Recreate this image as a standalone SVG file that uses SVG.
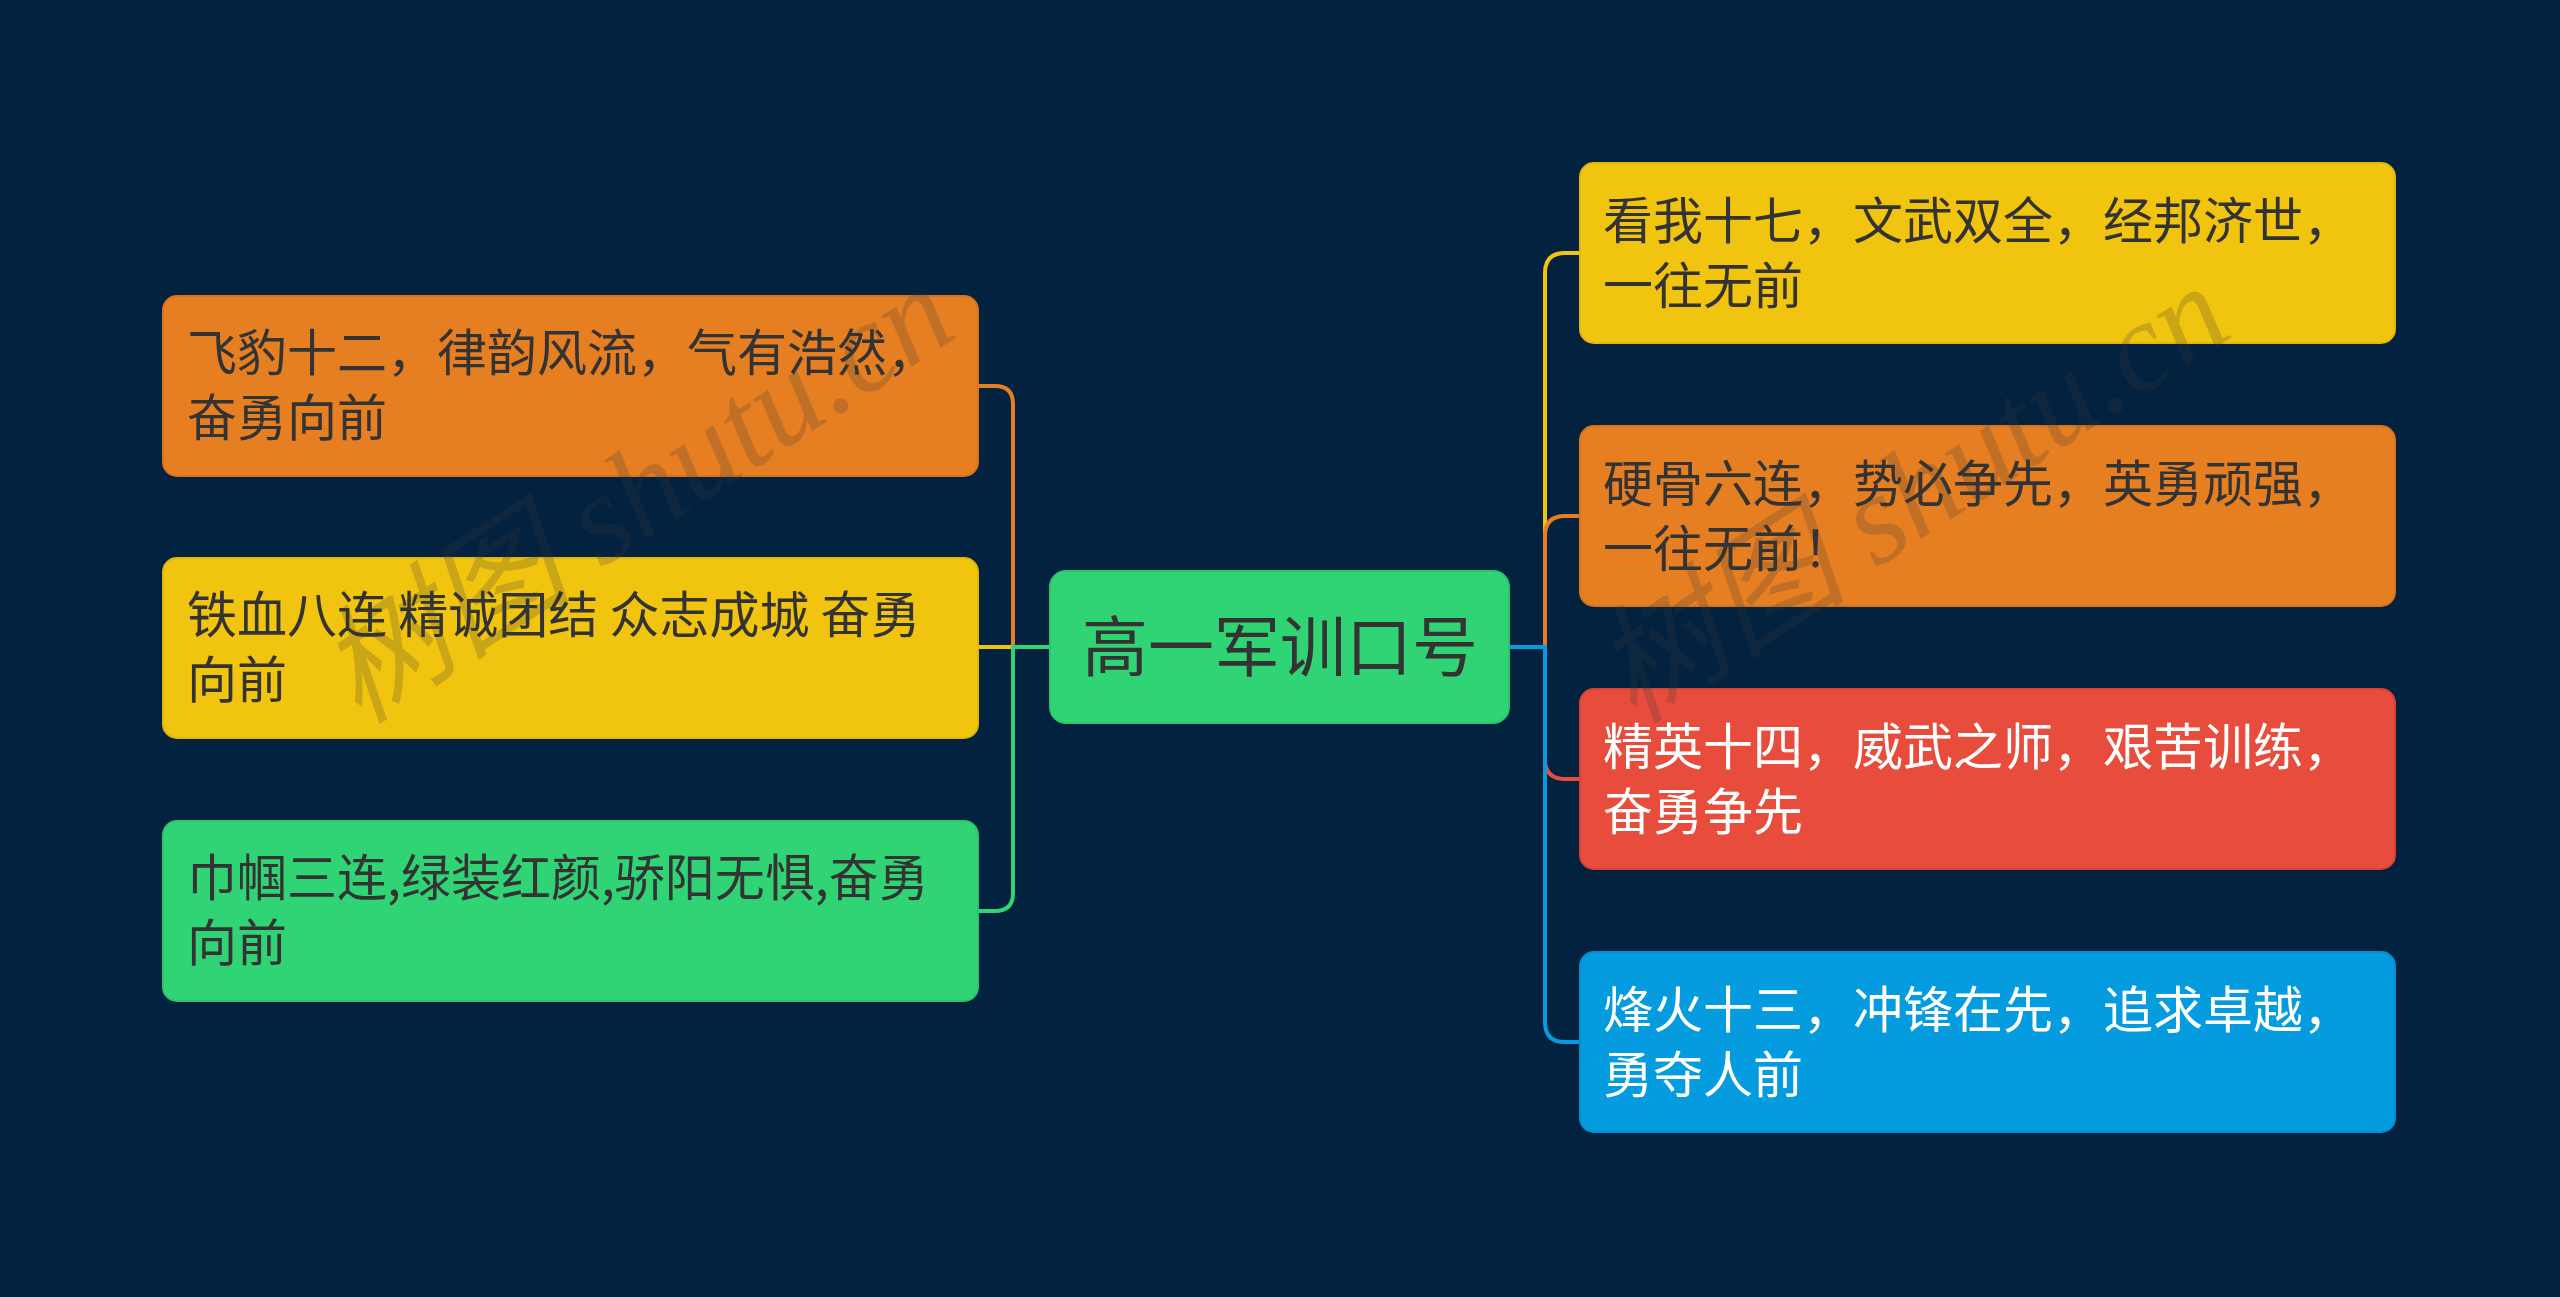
<svg xmlns="http://www.w3.org/2000/svg" width="2560" height="1297" viewBox="0 0 2560 1297">
<style>
.bg{fill:#02223F}
.box{stroke-width:2}
.t{font-family:"Noto Sans CJK SC","Noto Sans",sans-serif;font-size:50px;fill:#333333}
.tw{fill:#FFFFFF}
.ct{font-family:"Noto Sans CJK SC","Noto Sans",sans-serif;font-size:66px;fill:#333333;text-anchor:middle}
.c{fill:none;stroke-width:4;stroke-linecap:round;stroke-linejoin:round}
.wm{font-family:"Liberation Serif","Noto Sans CJK SC",serif;font-style:italic;font-size:128px;fill:#3c3c3c;fill-opacity:0.22;text-anchor:middle}
</style>
<rect class="bg" x="0" y="0" width="2560" height="1297"/>
<g id="connectors">
  <path class="c" stroke="#E67E22" d="M1050 647 H1013 V404 Q1013 386 995 386 H979"/>
  <path class="c" stroke="#F1C40F" d="M1050 647 H979"/>
  <path class="c" stroke="#30D475" d="M1050 647 H1013 V893 Q1013 911 995 911 H979"/>
  <path class="c" stroke="#F1C40F" d="M1509 647 H1545 V273 Q1545 253 1565 253 H1580"/>
  <path class="c" stroke="#E67E22" d="M1509 647 H1545 V536 Q1545 516 1565 516 H1580"/>
  <path class="c" stroke="#E74C3C" d="M1509 647 H1545 V759 Q1545 779 1565 779 H1580"/>
  <path class="c" stroke="#049CDF" d="M1509 647 H1545 V1022 Q1545 1042 1565 1042 H1580"/>
</g>
<g id="center">
  <rect class="box" x="1050" y="571" width="459" height="152" rx="16" fill="#30D475" stroke="#2CC56C"/>
  <text class="ct" x="1280" y="671">高一军训口号</text>
</g>
<g id="left1">
  <rect class="box" x="163" y="296" width="815" height="180" rx="14" fill="#E67E22" stroke="#D8741C"/>
  <text class="t" x="187" y="371">飞豹十二，律韵风流，气有浩然，</text>
  <text class="t" x="187" y="436">奋勇向前</text>
</g>
<g id="left2">
  <rect class="box" x="163" y="558" width="815" height="180" rx="14" fill="#F1C40F" stroke="#E2B70C"/>
  <text class="t" x="187" y="633">铁血八连 精诚团结 众志成城 奋勇</text>
  <text class="t" x="187" y="698">向前</text>
</g>
<g id="left3">
  <rect class="box" x="163" y="821" width="815" height="180" rx="14" fill="#30D475" stroke="#2CC56C"/>
  <text class="t" x="187" y="896">巾帼三连,绿装红颜,骄阳无惧,奋勇</text>
  <text class="t" x="187" y="961">向前</text>
</g>
<g id="right1">
  <rect class="box" x="1580" y="163" width="815" height="180" rx="14" fill="#F1C40F" stroke="#E2B70C"/>
  <text class="t" x="1603" y="239">看我十七，文武双全，经邦济世，</text>
  <text class="t" x="1603" y="304">一往无前</text>
</g>
<g id="right2">
  <rect class="box" x="1580" y="426" width="815" height="180" rx="14" fill="#E67E22" stroke="#D8741C"/>
  <text class="t" x="1603" y="502">硬骨六连，势必争先，英勇顽强，</text>
  <text class="t" x="1603" y="567">一往无前！</text>
</g>
<g id="right3">
  <rect class="box" x="1580" y="689" width="815" height="180" rx="14" fill="#E74C3C" stroke="#D64234"/>
  <text class="t tw" x="1603" y="765">精英十四，威武之师，艰苦训练，</text>
  <text class="t tw" x="1603" y="830">奋勇争先</text>
</g>
<g id="right4">
  <rect class="box" x="1580" y="952" width="815" height="180" rx="14" fill="#049CDF" stroke="#0390D0"/>
  <text class="t tw" x="1603" y="1028">烽火十三，冲锋在先，追求卓越，</text>
  <text class="t tw" x="1603" y="1093">勇夺人前</text>
</g>
<g id="watermark">
  <text class="wm" transform="translate(660 530) rotate(-33)">树图 shutu.cn</text>
  <text class="wm" transform="translate(1935 530) rotate(-33)">树图 shutu.cn</text>
</g>
</svg>
